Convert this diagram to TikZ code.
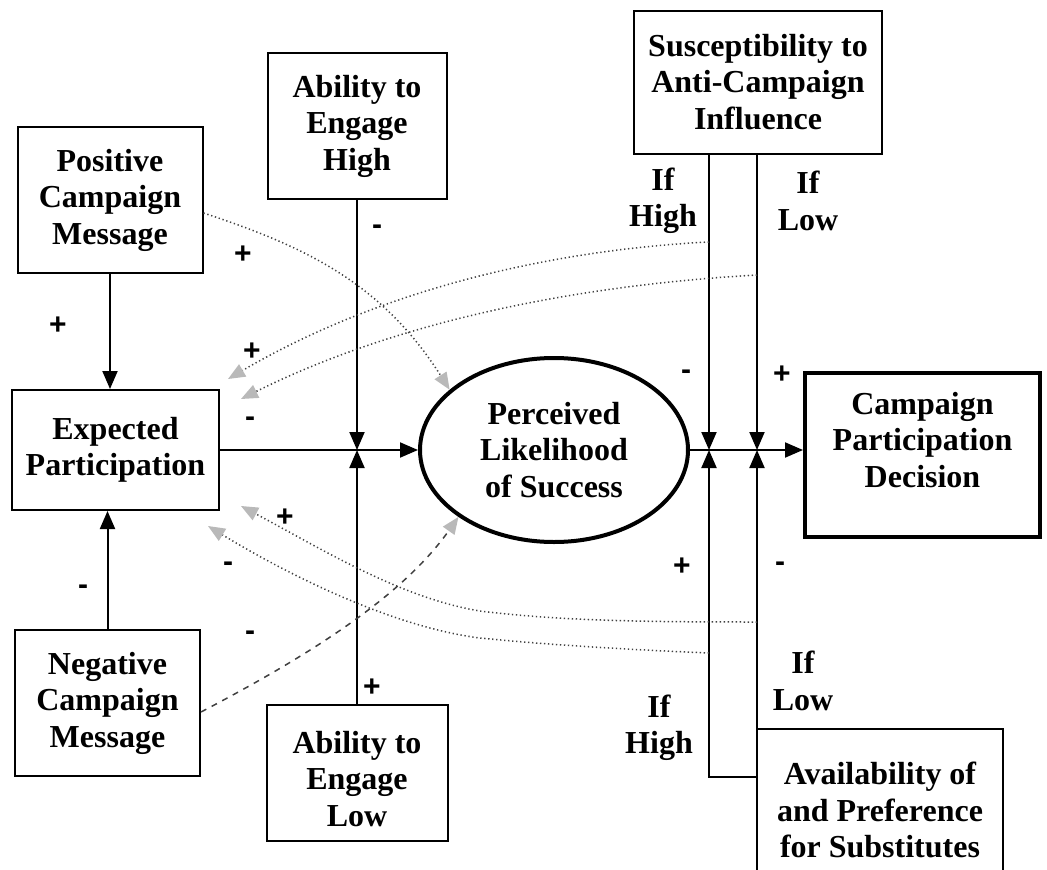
\documentclass[tikz,border=0pt]{standalone}
\usepackage{fontspec}
\setmainfont{Liberation Serif}
\newfontfamily\signfont{Liberation Sans}
\usetikzlibrary{arrows.meta,shapes.geometric}
\begin{document}
\begin{tikzpicture}[x=1pt,y=-1pt,
  txt/.style={font=\bfseries\fontsize{32}{36.5}\selectfont, align=center, inner sep=0pt},
  box/.style={txt, draw, line width=2pt},
  sign/.style={font=\signfont\bfseries\fontsize{30}{30}\selectfont, inner sep=0pt},
  conn/.style={line width=2pt, -{Triangle[length=18pt,width=15pt]}},
  infl/.style={line width=1.5pt, black!75, dash pattern=on 1.3pt off 2.7pt,
    -{Triangle[length=17pt,width=14pt,fill=gray!55,color=gray!55]}},
  infldash/.style={infl, dash pattern=on 6pt off 6pt}
]
\useasboundingbox (0,0) rectangle (1047,870);
\clip (0,0) rectangle (1047,870);

% boxes
\node[box, minimum width=185pt, minimum height=146pt] (PCM) at (110,200) {Positive\\Campaign\\Message};
\node[box, minimum width=179pt, minimum height=146pt] (AH) at (357,126) {Ability to\\Engage\\High};
\node[box, minimum width=207pt, minimum height=120pt] (EP) at (115.5,450) {Expected\\Participation};
\node[box, minimum width=185pt, minimum height=146pt] (NCM) at (107.5,703) {Negative\\Campaign\\Message};
\node[draw, line width=2pt, minimum width=181pt, minimum height=136pt, inner sep=0pt] (AL) at (357,773) {};
\node[txt] (ALt) at (357,779) {Ability to\\Engage\\Low};
\node[txt, draw, ellipse, line width=4pt, minimum width=268pt, minimum height=184pt] (PL) at (554,450) {Perceived\\Likelihood\\of Success};
\node[draw, line width=4pt, minimum width=235pt, minimum height=164pt, inner sep=0pt] (CPD) at (922.5,455) {};
\node[txt] (CPDt) at (922.5,440) {Campaign\\Participation\\Decision};
\node[box, minimum width=248pt, minimum height=143pt] (SA) at (758,82) {Susceptibility to\\Anti-Campaign\\Influence};
\node[box, minimum width=246pt, minimum height=162pt] (AV) at (880,810) {Availability of\\and Preference\\for Substitutes};

% junction points
\coordinate (J1) at (357,450);
\coordinate (J3) at (709,450);
\coordinate (J4) at (757,450);
\coordinate (K) at (709,777);

% solid connectors
\draw[conn] (PCM.south) -- (PCM.south |- EP.north);
\draw[conn] (NCM.north) -- (NCM.north |- EP.south);
\draw[conn] (EP.east) -- (PL.west);
\draw[conn] (AH.south) -- (J1);
\draw[conn] (AL.north) -- (J1);
\draw[conn] (PL.east) -- (PL.east -| CPD.west);
\draw[conn] (SA.south -| J3) -- (J3);
\draw[conn] (SA.south -| J4) -- (J4);
\draw[conn] (AV.north -| J4) -- (J4);
\draw[conn] (AV.west |- K) -- (K) -- (J3);

% influence curves
\coordinate (b1) at (709,242);
\coordinate (c1) at (757,275);
\coordinate (d1) at (757,622);
\coordinate (e1) at (709,653);
\draw[infl] ([yshift=-13pt]PCM.east) .. controls (300,245) and (380,280) .. (PL.150);
\draw[infl] (b1) .. controls (550,250) and (380,290) .. ([xshift=8pt,yshift=10pt]EP.north east);
\draw[infl] (c1) .. controls (580,285) and (400,320) .. ([xshift=21pt,yshift=-10pt]EP.north east);
\draw[infl] (d1) .. controls (650,622) and (560,621) .. (480,611) .. controls (400,598) and (320,548) .. ([xshift=21pt,yshift=5pt]EP.south east);
\draw[infl] (e1) .. controls (640,650) and (560,646) .. (480,638) .. controls (400,628) and (300,582) .. ([xshift=-12pt,yshift=-15pt]EP.south east);
\draw[infldash] ([yshift=-9pt]NCM.east) .. controls (300,660) and (400,600) .. (PL.215);

% signs
\node[sign] (s1) at (58,326) {+};
\node[sign] (s2) at (243,255) {+};
\node[sign] (s3) at (377,230) {-};
\node[sign] (s4) at (252,352) {+};
\node[sign] (s5) at (250,422) {-};
\node[sign] (s6) at (285,518) {+};
\node[sign] (s7) at (228,567) {-};
\node[sign] (s8) at (83,590) {-};
\node[sign] (s9) at (250,636) {-};
\node[sign] (s10) at (372,688) {+};
\node[sign] (s11) at (686,375) {-};
\node[sign] (s12) at (782,375) {+};
\node[sign] (s13) at (682,567) {+};
\node[sign] (s14) at (780,567) {-};

% condition labels
\node[txt] (l1) at (663,201) {If\\High};
\node[txt] (l2) at (808,201) {If\\Low};
\node[txt] (l3) at (803,681) {If\\Low};
\node[txt] (l4) at (659,728) {If\\High};
\end{tikzpicture}
\end{document}
